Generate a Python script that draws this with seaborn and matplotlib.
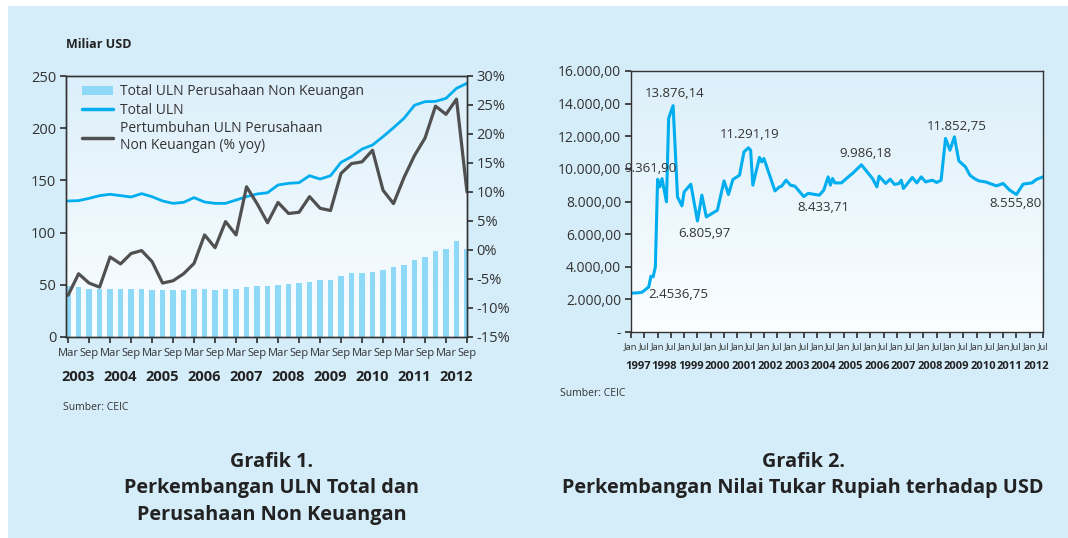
import numpy as np
import pandas as pd
import matplotlib
matplotlib.use('Agg')
import matplotlib.pyplot as plt
import matplotlib.transforms as mtransforms
from matplotlib.colors import LinearSegmentedColormap
from matplotlib.patches import Patch, Rectangle
from matplotlib.lines import Line2D
import seaborn as sns

# Grafik 1 - quarterly, Mar 2003 .. Sep 2012 (Miliar USD / % yoy)
years1 = list(range(2003, 2013))
quarter_names = ['Mar', 'Jun', 'Sep', 'Dec']
uln_nfc = [48.4, 48, 46, 46, 46, 46, 46, 46, 45, 44.6,
           44.6, 44.6, 46, 46, 44.6, 46, 46, 48, 49, 49,
           50, 51, 52, 53, 54.5, 54.5, 58.6, 61.6, 61.6, 62.4,
           64.3, 66.6, 69, 74, 77, 82.5, 84.7, 92, 84.7]
uln_total = [130.3, 130.6, 132.8, 135.4, 136.7, 135.4, 134.1, 137.3, 134.4, 130.3,
             128, 129, 133.5, 129.3, 128, 128, 131.2, 134.4, 137, 138.2,
             145.6, 147.2, 147.8, 154.5, 151.3, 154.5, 167.3, 172.7, 180, 183.9,
             191.9, 200.5, 209.5, 222, 225.4, 225.7, 228.6, 238.2, 243]
growth_nfc = [-7.8, -4.1, -5.7, -6.4, -1.2, -2.4, -0.6, -0.1, -2.0, -5.7,
              -5.3, -4.1, -2.3, 2.6, 0.4, 4.9, 2.6, 10.9, 8.0, 4.7,
              8.2, 6.3, 6.5, 9.2, 7.2, 6.8, 13.2, 14.9, 15.2, 17.2,
              10.3, 8.0, 12.5, 16.3, 19.3, 24.8, 23.4, 26.0, 10.0]

# Grafik 2 - Rupiah per USD
kurs_dates = ['1997-01', '1997-04', '1997-06', '1997-09', '1997-10', '1997-11', '1997-12',
              '1998-01', '1998-02', '1998-03', '1998-05', '1998-06', '1998-08', '1998-10', '1998-12',
              '1999-01', '1999-04', '1999-07', '1999-09', '1999-11',
              '2000-04', '2000-07', '2000-09', '2000-11',
              '2001-02', '2001-03', '2001-04', '2001-06', '2001-07', '2001-08', '2001-11', '2001-12',
              '2002-01', '2002-06', '2002-08', '2002-09', '2002-11',
              '2003-01', '2003-03', '2003-07', '2003-09',
              '2004-02', '2004-04', '2004-06', '2004-07', '2004-08', '2004-09', '2004-12',
              '2005-04', '2005-05', '2005-09',
              '2006-02', '2006-04', '2006-05', '2006-08', '2006-10', '2006-12',
              '2007-02', '2007-03', '2007-04', '2007-08', '2007-10', '2007-12',
              '2008-02', '2008-05', '2008-07', '2008-09', '2008-11',
              '2009-01', '2009-03', '2009-05', '2009-08', '2009-10', '2009-12',
              '2010-02', '2010-05', '2010-07', '2010-10',
              '2011-01', '2011-04', '2011-07', '2011-10', '2011-12',
              '2012-02', '2012-04', '2012-07']
kurs = [2380, 2400, 2440, 2760, 3420, 3380, 4000,
        9360, 8900, 9400, 7980, 13100, 13876, 8280, 7730,
        8590, 9060, 6806, 8390, 7055,
        7466, 9264, 8430, 9350,
        9613, 10331, 11043, 11291, 11147, 9000, 10699, 10430,
        10638, 8650, 8896, 8939, 9307,
        9000, 8939, 8300, 8500,
        8387, 8693, 9509, 9000, 9411, 9141, 9141,
        9613, 9718, 10250,
        9411, 8900, 9550, 9104, 9368, 9043,
        9104, 9307, 8797, 9472, 9141, 9509,
        9203, 9307, 9166, 9307, 11865,
        11147, 11963, 10491, 10123, 9613, 9411,
        9264, 9203, 9104, 8957,
        9104, 8693, 8429, 9061, 9104,
        9141, 9350, 9509]
kurs_labels = ['9.361,90', '13.876,14', '2.4536,75', '6.805,97', '11.291,19',
               '8.433,71', '9.986,18', '11.852,75', '8.555,80']

BG = '#D5ECF9'
TXT = '#333333'
BAR = '#8ED8F8'
BLUE = '#00AEEF'
GREY = '#505050'

sns.set_theme(style='ticks')
plt.rcParams['font.family'] = ['Open Sans', 'DejaVu Sans']
plt.rcParams['text.color'] = TXT
plt.rcParams['axes.edgecolor'] = TXT
plt.rcParams['xtick.color'] = TXT
plt.rcParams['ytick.color'] = TXT
plt.rcParams['axes.linewidth'] = 1.0

W, H = 1068, 538
fig = plt.figure(figsize=(W / 100, H / 100), dpi=100)
fig.patch.set_facecolor('white')
fig.patches.append(Rectangle((8 / W, 0), 1, 1 - 6 / H, transform=fig.transFigure,
                             facecolor=BG, edgecolor='none', zorder=-10))


def px_rect(x0, y0, x1, y1):
    return [x0 / W, 1 - y1 / H, (x1 - x0) / W, (y1 - y0) / H]


def gradient_bg(rect):
    bg = fig.add_axes(rect, zorder=0)
    grad = np.linspace(0, 1, 256).reshape(-1, 1)
    cmap = LinearSegmentedColormap.from_list('bg', ['#DCEFFA', '#FBFEFF'])
    bg.imshow(grad, aspect='auto', cmap=cmap, extent=[0, 1, 0, 1], origin='upper')
    bg.axis('off')


# ---------------- Grafik 1 ----------------
rect1 = px_rect(66, 76, 467, 337)
gradient_bg(rect1)
ax1 = fig.add_axes(rect1, zorder=1)
ax1.set_facecolor('none')

df1 = pd.DataFrame({'pos': np.arange(len(uln_nfc)), 'nfc': uln_nfc,
                    'total': uln_total, 'growth': growth_nfc})
sns.barplot(data=df1, x='pos', y='nfc', native_scale=True, width=0.5,
            color=BAR, saturation=1, linewidth=0, ax=ax1)
sns.lineplot(data=df1, x='pos', y='total', color=BLUE, lw=2.0, ax=ax1)
ax2 = ax1.twinx()
ax2.set_zorder(2)
ax2.patch.set_visible(False)
sns.lineplot(data=df1, x='pos', y='growth', color=GREY, lw=2.3, ax=ax2)

ax1.set_xlim(-0.2, 38.0)
ax1.set_ylim(0, 250)
ax1.set_yticks(range(0, 251, 50))
ax2.set_ylim(-15, 30)
ax2.set_yticks(range(-15, 31, 5))
ax2.set_yticklabels([f'{v}%' for v in range(-15, 31, 5)])
tick_pos = list(range(0, len(uln_nfc), 2))
ax1.set_xticks(tick_pos)
ax1.set_xticklabels([quarter_names[p % 4] for p in tick_pos], fontsize=8)
ax1.tick_params(axis='x', direction='out', length=4, pad=4)
ax1.tick_params(axis='y', direction='out', length=4, labelsize=10.5, pad=3)
ax2.tick_params(axis='y', direction='out', length=4, labelsize=10.5, pad=3)
for a in (ax1, ax2):
    a.set_xlabel('')
    a.set_ylabel('')
    for s in a.spines.values():
        s.set_visible(True)
        s.set_color(TXT)

trans1 = mtransforms.blended_transform_factory(ax1.transData, ax1.transAxes)
for k, yr in enumerate(years1):
    ax1.text(4 * k + 1, -0.155, str(yr), transform=trans1, ha='center', va='center',
             fontsize=10.5, fontweight='bold', color='#222222')

handles = [Patch(facecolor=BAR, edgecolor='none'),
           Line2D([], [], color=BLUE, lw=2.5),
           Line2D([], [], color=GREY, lw=2.5)]
labels = ['Total ULN Perusahaan Non Keuangan', 'Total ULN',
          'Pertumbuhan ULN Perusahaan\nNon Keuangan (% yoy)']
ax2.legend(handles, labels, loc='upper left', bbox_to_anchor=(0.02, 1.0),
           frameon=False, fontsize=10, handlelength=2.2, handletextpad=0.5,
           labelspacing=0.25, borderaxespad=0.2, labelcolor=TXT)

fig.text(66 / W, 1 - 45 / H, 'Miliar USD', fontsize=9, fontweight='bold',
         ha='left', va='center', color='#222222')
fig.text(63 / W, 1 - 408 / H, 'Sumber: CEIC', fontsize=7.5, ha='left', va='center')

# ---------------- Grafik 2 ----------------
rect2 = px_rect(631, 71, 1043, 332)
gradient_bg(rect2)
ax3 = fig.add_axes(rect2, zorder=1)
ax3.set_facecolor('none')

months = [(int(d[:4]) - 1997) * 12 + int(d[5:]) - 1 for d in kurs_dates]
df2 = pd.DataFrame({'month': months, 'kurs': kurs})
sns.lineplot(data=df2, x='month', y='kurs', color=BLUE, lw=2.2, ax=ax3)

ax3.set_xlim(0, 186)
ax3.set_ylim(0, 16000)
yt = list(range(0, 16001, 2000))
ax3.set_yticks(yt)
ax3.set_yticklabels(['-' if v == 0 else f'{v:,.2f}'.replace(',', 'X').replace('.', ',').replace('X', '.')
                     for v in yt])
xt = list(range(0, 187, 6))
ax3.set_xticks(xt)
ax3.set_xticklabels(['Jan' if m % 12 == 0 else 'Jul' for m in xt], fontsize=6.8)
ax3.tick_params(axis='x', direction='out', length=4, pad=3)
ax3.tick_params(axis='y', direction='out', length=4, labelsize=10, pad=3)
ax3.set_xlabel('')
ax3.set_ylabel('')
for s in ax3.spines.values():
    s.set_visible(True)
    s.set_color(TXT)

trans3 = mtransforms.blended_transform_factory(ax3.transData, ax3.transAxes)
for k in range(16):
    ax3.text(12 * k + 3, -0.134, str(1997 + k), transform=trans3, ha='center', va='center',
             fontsize=8, fontweight='bold', color='#222222')

label_xy = [(8.7, 10025), (19.9, 14626), (21.4, 2313), (33, 6037), (53.7, 12129),
            (87, 7632), (105.9, 10945), (147, 12577), (173.4, 7877)]
for txt, (lx, ly) in zip(kurs_labels, label_xy):
    ax3.text(lx, ly, txt, ha='center', va='center', fontsize=9.5, color=TXT)

fig.text(560 / W, 1 - 393 / H, 'Sumber: CEIC', fontsize=7.5, ha='left', va='center')

# ---------------- titles ----------------
for cx, lines in [(272, ['Grafik 1.', 'Perkembangan ULN Total dan', 'Perusahaan Non Keuangan']),
                  (803, ['Grafik 2.', 'Perkembangan Nilai Tukar Rupiah terhadap USD'])]:
    for j, line in enumerate(lines):
        fig.text(cx / W, 1 - (462 + 26.5 * j) / H, line, ha='center', va='center',
                 fontsize=14.3, fontweight='bold', color='#222222')

fig.savefig('out.png', dpi=100, facecolor=fig.get_facecolor())
